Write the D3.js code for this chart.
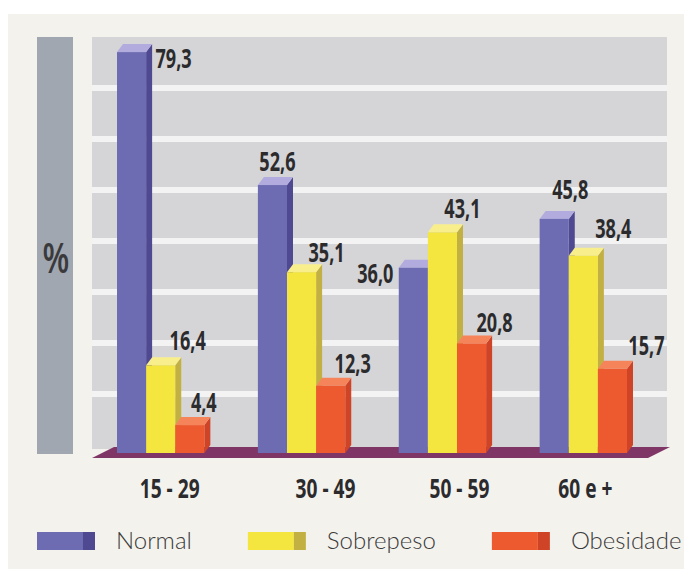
<!DOCTYPE html>
<html><head><meta charset="utf-8">
<script src="https://cdn.jsdelivr.net/npm/d3@7"></script>
<style>body{margin:0;background:#fff;}svg{display:block;}</style>
</head><body>
<svg id="c" width="684" height="569"></svg>
<script>
// ---- data ----
const categories = ["15 - 29", "30 - 49", "50 - 59", "60 e +"];
const seriesNames = ["Normal", "Sobrepeso", "Obesidade"];
const normal = [79.3, 52.6, 36.0, 45.8];
const sobrepeso = [16.4, 35.1, 43.1, 38.4];
const obesidade = [4.4, 12.3, 20.8, 15.7];
const axisTitle = "%";

// ---- layout / style (not data) ----
const colors = {
  Normal:    {front: "#6d6cb3", side: "#4e4990", top: "#b2acde"},
  Sobrepeso: {front: "#f4e63f", side: "#c2b142", top: "#f8ef8c"},
  Obesidade: {front: "#ee5a2f", side: "#cf4327", top: "#f5845a"}
};
// label nudges relative to bar front-top centre [dx, dy]
const labelNudge = {
  Normal:    [[42, 16], [5, -14], [-38, 15], [16, -20]],
  Sobrepeso: [[27, -15], [25, -10], [20, -14], [30, -18]],
  Obesidade: [[14, -13], [22, -13], [23, -11], [34, -14]]
};
const tickNudge = [9, 24, 17, 2];
const depth = {dx: 6, dy: -8};

const svg = d3.select("#c");
const fmt = v => d3.format(".1f")(v).replace(".", ",");
const boldFont = "'Open Sans','Liberation Sans','DejaVu Sans',sans-serif";

const series = seriesNames.map((name, i) => ({name, values: [normal, sobrepeso, obesidade][i]}));

// background (scanned page)
svg.append("rect").attr("x", 8).attr("y", 14).attr("width", 676).attr("height", 555).attr("fill", "#f4f2ed");

// scales
const y = d3.scaleLinear().domain([0, 80]).range([447, 48.6]);
const x0 = d3.scaleBand().domain(categories).range([117, 627]).paddingInner(0.38).paddingOuter(0);
const x1 = d3.scaleBand().domain(seriesNames).range([0, x0.bandwidth()]).padding(0);
const panel = {x0: 92, x1: 667, top: 37, bottom: 445};
const stripe = d3.scaleLinear().domain([0, 8]).range([panel.top, panel.bottom]);
const floorY = {top: 447, bottom: 458, barBase: 453};

// left axis strip with %
svg.append("rect").attr("x", 37).attr("y", 37).attr("width", 36).attr("height", 417).attr("fill", "#a0a7b0");
svg.append("text").attr("transform", "translate(56,273) scale(0.74,1)")
  .attr("text-anchor", "middle").attr("font-family", boldFont).attr("font-weight", 600).attr("font-size", 42)
  .attr("fill", "#3a3a3c").text(axisTitle);

// grey panel with white stripes
svg.append("rect").attr("x", panel.x0).attr("y", panel.top).attr("width", panel.x1 - panel.x0)
  .attr("height", panel.bottom - panel.top + 4).attr("fill", "#d5d5d7");
svg.append("g").selectAll("line").data(d3.range(1, 8)).join("line")
  .attr("x1", panel.x0).attr("x2", panel.x1)
  .attr("y1", d => stripe(d)).attr("y2", d => stripe(d))
  .attr("stroke", "#f3f3f3").attr("stroke-width", 6);

// floor
const fl = [[panel.x0, floorY.bottom], [panel.x0 + 22, floorY.top], [panel.x1 + 3, floorY.top], [panel.x1 - 19, floorY.bottom]];
svg.append("polygon").attr("points", fl.map(p => p.join(",")).join(" ")).attr("fill", "#7f3667");

// bars
const bars = svg.append("g");
categories.forEach((cat, ci) => {
  series.forEach(s => {
    const v = s.values[ci];
    const xl = x0(cat) + x1(s.name), w = x1.bandwidth();
    const top = y(v), bot = floorY.barBase;
    const c = colors[s.name];
    const g = bars.append("g");
    g.append("polygon").attr("points", [[xl + w, top], [xl + w + depth.dx, top + depth.dy], [xl + w + depth.dx, bot + depth.dy], [xl + w, bot]].map(p => p.join(",")).join(" "))
      .attr("fill", c.side);
    g.append("polygon").attr("points", [[xl, top], [xl + depth.dx, top + depth.dy], [xl + w + depth.dx, top + depth.dy], [xl + w, top]].map(p => p.join(",")).join(" "))
      .attr("fill", c.top);
    g.append("rect").attr("x", xl).attr("y", top).attr("width", w).attr("height", bot - top).attr("fill", c.front);
  });
});

// value labels
const labels = svg.append("g");
categories.forEach((cat, ci) => {
  series.forEach(s => {
    const v = s.values[ci];
    const cx = x0(cat) + x1(s.name) + x1.bandwidth() / 2;
    const [dx, dy] = labelNudge[s.name][ci];
    labels.append("text")
      .attr("transform", `translate(${cx + dx},${y(v) + dy}) scale(0.67,1)`)
      .attr("text-anchor", "middle").attr("font-family", boldFont).attr("font-weight", 700)
      .attr("font-size", 27).attr("fill", "#2b2b2d").text(fmt(v));
  });
});

// category axis
const axis = svg.append("g").attr("transform", "translate(0,498)");
categories.forEach((cat, ci) => {
  axis.append("text")
    .attr("transform", `translate(${x0(cat) + x0.bandwidth() / 2 + tickNudge[ci]},0) scale(0.71,1)`)
    .attr("text-anchor", "middle").attr("font-family", boldFont).attr("font-weight", 700)
    .attr("font-size", 27).attr("fill", "#2b2b2d").text(cat);
});

// legend (flow layout)
const legend = svg.append("g").attr("transform", "translate(37,532)");
let lx = 0;
seriesNames.forEach(name => {
  const c = colors[name];
  const item = legend.append("g").attr("transform", `translate(${lx},0)`);
  item.append("rect").attr("width", 46).attr("height", 18).attr("fill", c.front);
  item.append("rect").attr("x", 46).attr("width", 12).attr("height", 18).attr("fill", c.side);
  const t = item.append("text").attr("x", 79).attr("y", 17)
    .attr("font-family", "Lato, 'Open Sans', sans-serif").attr("font-weight", 300)
    .attr("font-size", 24).attr("fill", "#3a3a3a").text(name);
  lx += 79 + t.node().getComputedTextLength() + 56;
});
</script>
</body></html>
